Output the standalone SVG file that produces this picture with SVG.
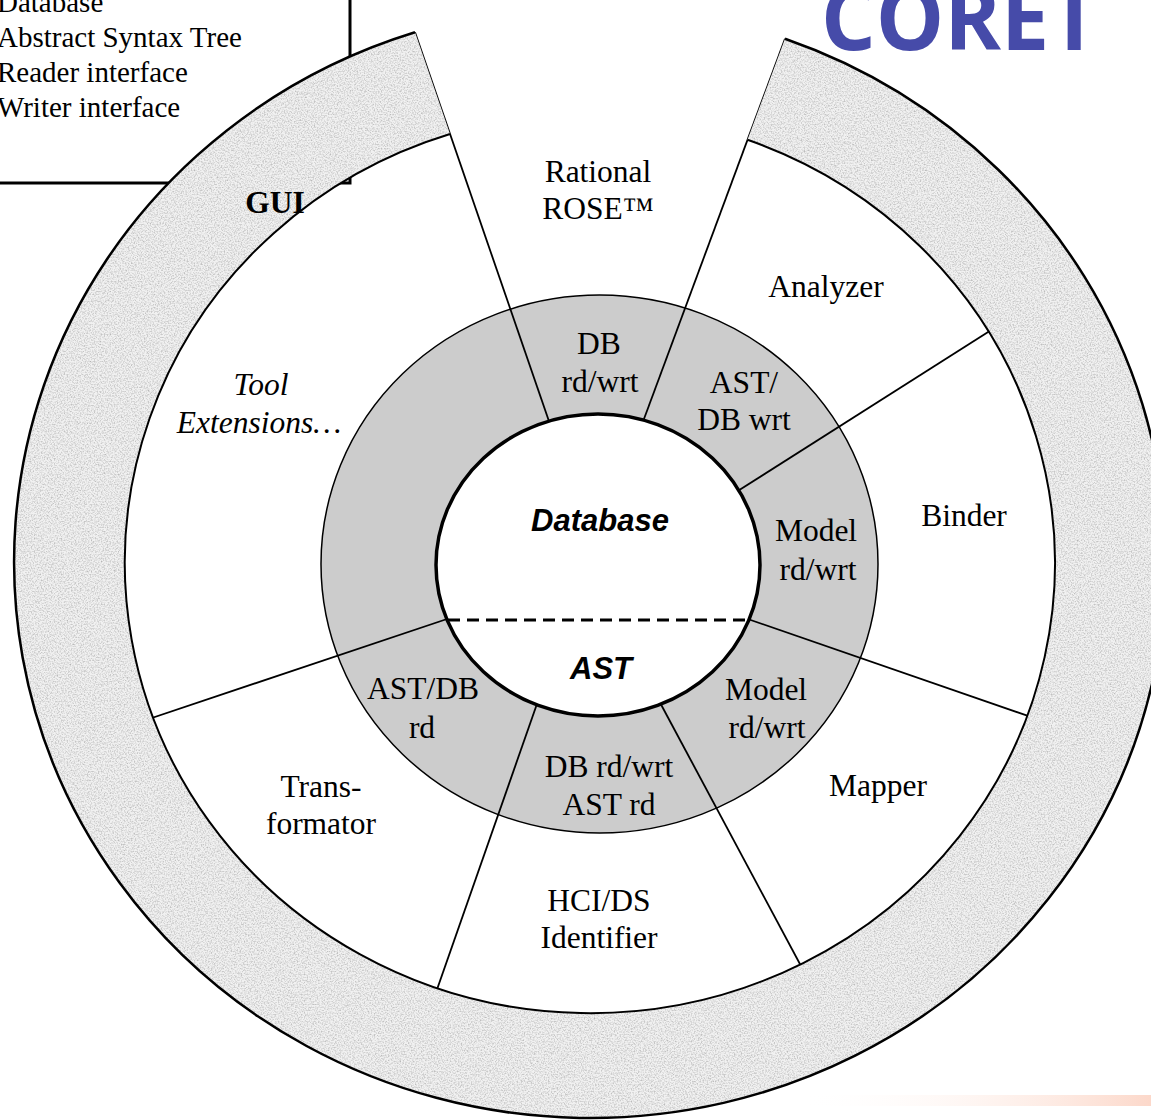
<svg xmlns="http://www.w3.org/2000/svg" width="1151" height="1120" viewBox="0 0 1151 1120">
<style>
.t{font-family:"Liberation Serif","Times New Roman",serif;font-size:31.5px;fill:#000;text-anchor:middle}
.i{font-style:italic}
.b{font-weight:bold}
.s{font-family:"Liberation Sans",Arial,sans-serif;font-size:31px;font-weight:bold;font-style:italic;fill:#000;text-anchor:middle}
.ln{stroke:#000;stroke-width:1.8;fill:none}
.leg{font-family:"Liberation Serif","Times New Roman",serif;font-size:29px;fill:#000}
</style>
<defs>
<filter id="tex" x="0" y="0" width="1" height="1" color-interpolation-filters="sRGB">
<feTurbulence type="fractalNoise" baseFrequency="0.7" numOctaves="2" seed="7" result="t"/>
<feColorMatrix in="t" type="matrix" values="0 0 0 0 0.55  0 0 0 0 0.55  0 0 0 0 0.55  1.2 0 0 0 -0.5" result="n"/>
<feComposite in="n" in2="SourceAlpha" operator="in"/>
</filter>
<linearGradient id="bar" x1="0" y1="0" x2="1" y2="0">
<stop offset="0" stop-color="#ffffff" stop-opacity="0"/>
<stop offset="1" stop-color="#fcd8ca"/>
</linearGradient>
</defs>
<rect width="1151" height="1120" fill="#fff"/>
<rect x="800" y="1095" width="351" height="11" fill="url(#bar)"/>

<g id="legend">
<rect x="-5" y="-5" width="355" height="188" fill="#fff" stroke="#000" stroke-width="3"/>
<text class="leg" x="-3" y="12">Database</text>
<text class="leg" x="-3" y="47">Abstract Syntax Tree</text>
<text class="leg" x="-3" y="82">Reader interface</text>
<text class="leg" x="-3" y="117">Writer interface</text>
</g>

<g id="title">
<text x="821" y="50" font-family="'Open Sans','DejaVu Sans',sans-serif" font-weight="bold" font-size="90" fill="#464ba9" textLength="278" lengthAdjust="spacingAndGlyphs">CORET</text>
</g>

<g id="db-ring">
<ellipse cx="599.5" cy="564" rx="278.5" ry="269" fill="#cccccc" stroke="#000" stroke-width="1.5"/>
</g>

<g id="connectors">
<line class="ln" x1="415" y1="32.3" x2="552" y2="430"/>
<line class="ln" x1="785" y1="38.8" x2="641" y2="427"/>
<line class="ln" x1="1007" y1="320" x2="733" y2="494"/>
<line class="ln" x1="1060" y1="727" x2="742" y2="617"/>
<line class="ln" x1="816" y1="994" x2="657" y2="697"/>
<line class="ln" x1="427" y1="1018" x2="538" y2="701"/>
<line class="ln" x1="128" y1="726" x2="453" y2="617"/>
</g>

<g id="gui-ring">
<path d="M415,32.3 A576,556 0 1,0 785,38.8 L747.5,139.8 A465,450 0 1,1 450,134 Z" fill="#f1f1f1"/>
<path d="M415,32.3 A576,556 0 1,0 785,38.8 L747.5,139.8 A465,450 0 1,1 450,134 Z" fill="#000" filter="url(#tex)"/>
<path d="M415,32.3 A576,556 0 1,0 785,38.8" fill="none" stroke="#000" stroke-width="2.5"/>
<path d="M747.5,139.8 A465,450 0 1,1 450,134" fill="none" stroke="#000" stroke-width="2"/>
<text class="t b" x="275" y="213" font-size="30">GUI</text>
</g>

<g id="core">
<ellipse cx="598" cy="565" rx="162" ry="151" fill="#fff" stroke="#000" stroke-width="3.5"/>
<line x1="448" y1="620" x2="749" y2="620" stroke="#000" stroke-width="3" stroke-dasharray="12,7"/>
<text class="s" x="600" y="531">Database</text>
<text class="s" x="601" y="679">AST</text>
</g>

<g id="rational-rose"><text class="t" x="598" y="182">Rational</text><text class="t" x="598" y="219">ROSE™</text></g>
<g id="analyzer"><text class="t" x="826" y="297">Analyzer</text></g>
<g id="binder"><text class="t" x="964" y="526">Binder</text></g>
<g id="mapper"><text class="t" x="878" y="796">Mapper</text></g>
<g id="hci-ds"><text class="t" x="599" y="911">HCI/DS</text><text class="t" x="599" y="948">Identifier</text></g>
<g id="transformator"><text class="t" x="321" y="797">Trans-</text><text class="t" x="321" y="834">formator</text></g>
<g id="tool-ext"><text class="t i" x="261" y="395">Tool</text><text class="t i" x="259" y="433">Extensions…</text></g>

<g id="if-db"><text class="t" x="599" y="354">DB</text><text class="t" x="600" y="392">rd/wrt</text></g>
<g id="if-astdb-wrt"><text class="t" x="744" y="393">AST/</text><text class="t" x="744" y="430">DB wrt</text></g>
<g id="if-model1"><text class="t" x="816" y="541">Model</text><text class="t" x="818" y="580">rd/wrt</text></g>
<g id="if-model2"><text class="t" x="766" y="700">Model</text><text class="t" x="767" y="738">rd/wrt</text></g>
<g id="if-dbast"><text class="t" x="609" y="777">DB rd/wrt</text><text class="t" x="609" y="815">AST rd</text></g>
<g id="if-astdb-rd"><text class="t" x="423" y="699">AST/DB</text><text class="t" x="422" y="738">rd</text></g>
</svg>
